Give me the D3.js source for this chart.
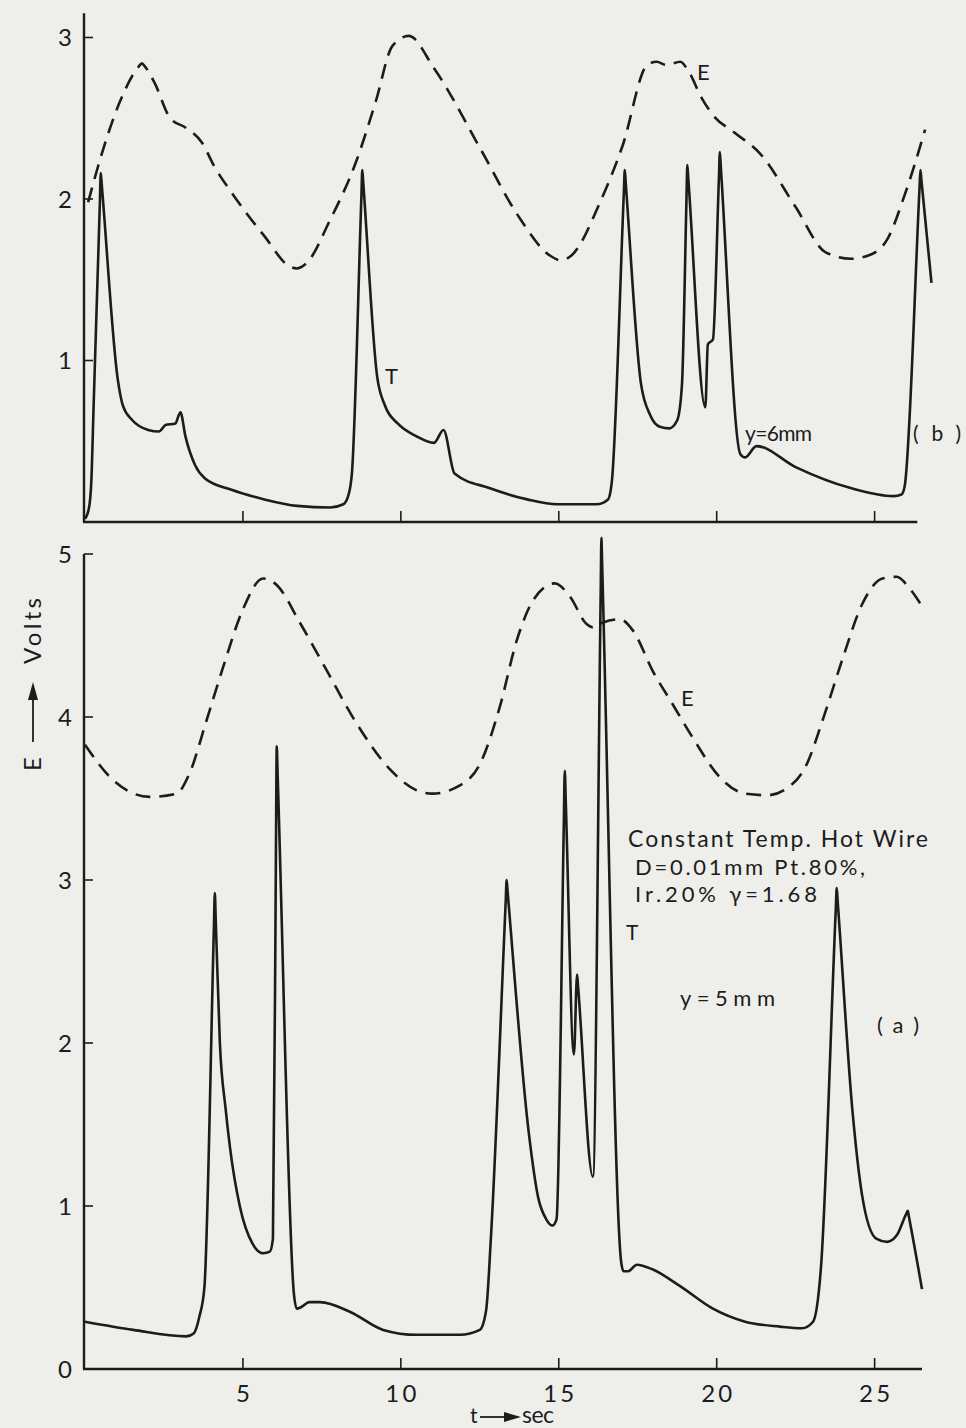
<!DOCTYPE html>
<html>
<head>
<meta charset="utf-8">
<script src="https://cdn.jsdelivr.net/npm/d3@7/dist/d3.min.js"></script>
<style>
  html, body { margin: 0; padding: 0; background: #eeeeeb; }
  svg { display: block; }
  text { font-family: "Lato", "DejaVu Sans", sans-serif; fill: #1c1c1c; }
</style>
</head>
<body>
<svg id="chart" width="966" height="1428"></svg>
<script>
// ---------- DATA (time in sec, E in volts) ----------
const xTicks = [5, 10, 15, 20, 25];
const yTicksTop = [1, 2, 3];
const yTicksBottom = [0, 1, 2, 3, 4, 5];

// Panel (b), y = 6 mm : hot-wire signal T (solid)
const topT_t = [0,0.12,0.2,0.27,0.47,0.5,0.53,1.04,1.2,1.5,2.0,2.34,2.55,2.86,3.02,3.18,3.49,3.8,4.64,5.68,6.72,7.76,8.18,8.33,8.45,8.75,8.78,8.81,9.25,9.5,9.9,10.5,11.05,11.35,11.7,12.8,14.0,14.95,16.2,16.56,16.68,17.06,17.09,17.12,17.6,17.9,18.2,18.5,18.75,18.9,19.04,19.07,19.1,19.64,19.72,19.88,20.07,20.1,20.13,20.75,20.9,21.26,22.5,24.24,25.6,25.85,25.95,26.42,26.45,26.48,26.8];
const topT_v = [0.02,0.08,0.25,0.7,1.97,2.16,2.09,0.88,0.72,0.63,0.57,0.56,0.6,0.61,0.68,0.53,0.35,0.27,0.2,0.14,0.10,0.09,0.11,0.16,0.3,2.01,2.18,2.10,0.9,0.72,0.61,0.53,0.49,0.57,0.30,0.21,0.14,0.11,0.11,0.14,0.25,2.04,2.18,2.10,0.86,0.66,0.59,0.58,0.63,0.85,1.97,2.21,2.13,0.71,1.1,1.13,2.13,2.29,2.20,0.42,0.40,0.47,0.34,0.21,0.16,0.17,0.22,2.06,2.18,2.12,1.48];

// Panel (b) : signal E (dashed)
const topE_t = [0.1,0.47,1.1,1.7,1.8,1.9,2.2,2.7,3.2,3.7,4.1,4.64,5.68,6.5,6.7,7.0,7.76,8.6,9.2,9.74,10.25,11.05,12.55,13.7,14.72,15.07,15.4,16.33,17.02,17.8,18.1,18.4,18.85,19.08,19.54,19.88,20.57,21.38,22.5,23.45,24.25,24.8,25.4,25.96,26.6];
const topE_v = [1.98,2.24,2.6,2.82,2.84,2.82,2.72,2.5,2.44,2.35,2.2,2.04,1.77,1.58,1.57,1.6,1.87,2.24,2.6,2.95,3.01,2.81,2.30,1.90,1.65,1.62,1.65,1.99,2.33,2.83,2.85,2.83,2.85,2.80,2.62,2.52,2.41,2.28,1.95,1.67,1.63,1.65,1.75,2.03,2.43];

// Panel (a), y = 5 mm : signal T (solid)
const botT_t = [0,1.53,3.2,3.45,3.62,3.78,4.08,4.11,4.14,4.27,4.45,4.59,4.9,5.3,5.64,5.85,5.95,6.05,6.07,6.10,6.62,6.7,6.85,7.1,7.44,8.4,9.44,10.5,11.87,12.5,12.7,12.85,13.32,13.35,13.38,14.05,14.35,14.6,14.8,14.93,15.16,15.19,15.22,15.48,15.58,15.61,16.08,16.33,16.35,16.37,16.98,17.05,17.2,17.47,17.98,18.83,19.88,20.9,22.0,22.7,23.05,23.3,23.77,23.8,23.83,24.3,24.6,25.05,25.4,25.7,26.02,26.05,26.08,26.5];
const botT_v = [0.29,0.24,0.2,0.22,0.32,0.5,2.70,2.92,2.75,2.0,1.6,1.36,1.0,0.77,0.71,0.72,0.8,3.32,3.82,3.64,0.45,0.37,0.38,0.41,0.41,0.35,0.24,0.21,0.21,0.24,0.36,0.8,2.87,3.0,2.93,1.45,1.05,0.92,0.88,0.92,3.35,3.67,3.49,1.93,2.42,2.35,1.18,4.81,5.1,4.96,0.65,0.6,0.6,0.64,0.61,0.51,0.37,0.29,0.26,0.25,0.29,0.62,2.82,2.95,2.87,1.58,1.07,0.80,0.78,0.82,0.96,0.97,0.94,0.49];

// Panel (a) : signal E (dashed)
const botE_t = [0,0.8,2.05,2.9,3.3,3.85,4.38,5.0,5.64,6.07,6.8,7.64,8.6,9.65,10.5,11.0,11.87,12.5,13.13,13.67,14.2,14.87,15.35,15.88,16.08,16.4,16.93,17.35,17.98,18.6,19.25,20.1,20.9,21.6,22.2,22.85,23.37,23.99,24.6,25.25,25.7,26.1,26.5];
const botE_v = [3.83,3.63,3.51,3.53,3.65,3.98,4.31,4.66,4.85,4.81,4.58,4.29,3.96,3.68,3.55,3.53,3.58,3.71,4.06,4.47,4.72,4.82,4.74,4.57,4.55,4.58,4.6,4.53,4.28,4.08,3.87,3.63,3.53,3.52,3.56,3.71,3.99,4.36,4.69,4.85,4.86,4.79,4.68];

// ---------- DRAWING ----------
const svg = d3.select("#chart");
const ink = "#1c1c1c";

const x = d3.scaleLinear().domain([0, 26.5]).range([85, 922]);
const yTop = d3.scaleLinear().domain([0, 3]).range([522, 37.5]);
const yBot = d3.scaleLinear().domain([0, 5]).range([1369, 554]);

const zip = (ts, vs) => ts.map((t, i) => [t, vs[i]]);

function panel(y, yTicks, yMaxAxis, xEnd) {
  const g = svg.append("g");
  g.append("line").attr("x1", x(0)-1).attr("x2", x(0)-1)
    .attr("y1", y(yMaxAxis)).attr("y2", y(0))
    .attr("stroke", ink).attr("stroke-width", 2.4);
  g.append("line").attr("x1", x(0)-2).attr("x2", x(xEnd))
    .attr("y1", y(0)).attr("y2", y(0))
    .attr("stroke", ink).attr("stroke-width", 2.4);
  yTicks.filter(d => d > 0).forEach(d => {
    g.append("line").attr("x1", x(0)-1).attr("x2", x(0)+8)
      .attr("y1", y(d)).attr("y2", y(d)).attr("stroke", ink).attr("stroke-width", 1.6);
  });
  yTicks.forEach(d => {
    g.append("text").attr("x", x(0)-13).attr("y", y(d)).attr("dy", "0.36em")
      .attr("text-anchor", "end").attr("font-size", 24).text(d);
  });
  xTicks.forEach(d => {
    g.append("line").attr("x1", x(d)).attr("x2", x(d))
      .attr("y1", y(0)).attr("y2", y(0)-11).attr("stroke", ink).attr("stroke-width", 1.6);
  });
  return g;
}

panel(yTop, yTicksTop, 3.15, 26.35);
panel(yBot, yTicksBottom, 5, 26.5);
xTicks.forEach(d => {
  const t = svg.append("text").attr("x", x(d)).attr("y", 1402)
    .attr("text-anchor", "middle").attr("font-size", 24).text(d);
  if (d >= 10) t.attr("textLength", 31).attr("lengthAdjust", "spacing");
});

function curve(y, ts, vs, dashed) {
  const line = d3.line().x(d => x(d[0])).y(d => y(d[1])).curve(d3.curveMonotoneX);
  svg.append("path").attr("d", line(zip(ts, vs)))
    .attr("fill", "none").attr("stroke", ink).attr("stroke-width", 2.6)
    .attr("stroke-linejoin", "round")
    .attr("stroke-dasharray", dashed ? "15,9" : null);
}
curve(yTop, topE_t, topE_v, true);
curve(yTop, topT_t, topT_v, false);
curve(yBot, botE_t, botE_v, true);
curve(yBot, botT_t, botT_v, false);

// ---------- annotations ----------
function label(xp, yp, txt, size, len) {
  const t = svg.append("text").attr("x", xp).attr("y", yp).attr("font-size", size).text(txt);
  if (len) t.attr("textLength", len).attr("lengthAdjust", "spacing");
  return t;
}
label(385, 384, "T", 22);
label(697, 80, "E", 22);
label(745, 441, "y=6mm", 21, 67);
label(913, 441, "(b)", 21, 48);

label(681, 706, "E", 22);
label(628, 847, "Constant Temp. Hot Wire", 23, 300);
label(635, 875, "D=0.01mm Pt.80%,", 22, 230);
label(635, 902, "Ir.20% \u03B3=1.68", 22, 182);
label(626, 940, "T", 21);
label(680, 1006, "y=5mm", 22, 95);
label(877, 1033, "(a)", 22, 42);

// y-axis title: "E ——▶ Volts" (rotated, reads bottom to top)
const yt = svg.append("g").attr("transform", "translate(41,0) rotate(-90)");
yt.append("text").attr("x", -771).attr("y", 0).attr("font-size", 24).text("E");
yt.append("line").attr("x1", -742).attr("x2", -695).attr("y1", -8).attr("y2", -8)
  .attr("stroke", ink).attr("stroke-width", 1.8);
yt.append("path").attr("d", "M-700,-13 L-682,-8 L-700,-3 Z").attr("fill", ink);
yt.append("text").attr("x", -664).attr("y", 0).attr("font-size", 24)
  .attr("textLength", 66).attr("lengthAdjust", "spacing").text("Volts");

// x-axis title: "t ——▶ sec"
const xt = svg.append("g").attr("transform", "translate(470,1423)");
xt.append("text").attr("x", 0).attr("y", 0).attr("font-size", 21).text("t");
xt.append("line").attr("x1", 10).attr("x2", 40).attr("y1", -6).attr("y2", -6)
  .attr("stroke", ink).attr("stroke-width", 1.8);
xt.append("path").attr("d", "M34,-11 L51,-6 L34,-1 Z").attr("fill", ink);
xt.append("text").attr("x", 52).attr("y", 0).attr("font-size", 23)
  .attr("textLength", 32).attr("lengthAdjust", "spacing").text("sec");
</script>
</body>
</html>
